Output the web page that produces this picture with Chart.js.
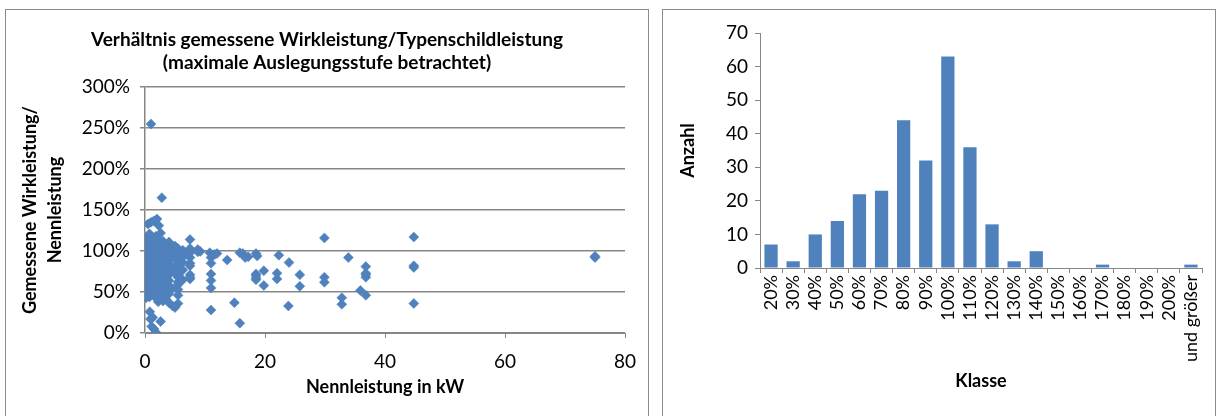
<!DOCTYPE html>
<html>
<head>
<meta charset="utf-8">
<script src="https://cdn.jsdelivr.net/npm/chart.js@4"></script>
<style>
  body { margin: 0; background: #fff; width: 1218px; height: 416px; overflow: hidden; position: relative; }
  .panel { position: absolute; top: 9px; border: 1px solid #8c8c8c; border-bottom: none; }
  #left { left: 5px; width: 642px; height: 407px; }
  #right { left: 662px; width: 552px; height: 407px; }
  canvas { display: block; }
</style>
</head>
<body>
<div class="panel" id="left"><canvas id="scatterChart" width="642" height="406"></canvas></div>
<div class="panel" id="right"><canvas id="histChart" width="552" height="406"></canvas></div>
<script>
// Messpunkte: [Nennleistung in kW, gemessene Wirkleistung / Nennleistung in %]
const messpunkte = [
  // bis 20 %
  [1.3, 19], [2.6, 14], [1.1, 8], [1.8, 1], [15.8, 12], [1.5, 5], [0.9, 17],
  // 20-30 %
  [0.8, 26], [11, 28],
  // 30-40 %
  [23.9, 33], [32.8, 35], [44.8, 36], [14.9, 37], [4.0, 37], [4.6, 33], [5.5, 36], [2.2, 38], [3.0, 39], [5.0, 31],
  // 40-50 %
  [32.8, 43], [36.8, 46], [0.2, 43], [0.4, 47], [1.0, 49], [2.2, 42], [1.5, 45], [3.0, 44], [4.0, 48], [5.5, 46],
  [0.75, 44], [2.6, 49], [3.5, 41], [1.8, 47],
  // 50-60 %
  [19.8, 58], [25.8, 57], [35.9, 52], [11, 55], [0.25, 52], [0.37, 55], [0.55, 58], [0.75, 51], [1.1, 53], [1.5, 57],
  [2.2, 52], [2.2, 56], [3.0, 54], [3.0, 59], [4.0, 51], [4.0, 57], [5.5, 53], [5.5, 59], [1.8, 50.5], [0.9, 59],
  [4.4, 55], [2.6, 58],
  // 60-70 %
  [36.8, 68], [18.5, 67], [18.5, 65], [22, 66], [29.9, 68], [29.9, 62], [11, 64], [7.5, 66], [7.5, 68], [0.18, 62],
  [0.37, 65], [0.55, 68], [0.75, 61], [1.1, 64], [1.5, 67], [2.2, 63], [2.2, 69], [3.0, 61], [3.0, 66], [4.0, 64],
  [5.5, 62], [5.5, 68], [6.3, 65],
  // 70-80 %
  [36.8, 71], [36.8, 73], [19.8, 76], [22, 73], [25.8, 71], [18.5, 72], [18.5, 70], [11, 72], [7.5, 71],
  [0.12, 74], [0.18, 78], [0.25, 71], [0.25, 77], [0.37, 73], [0.37, 79], [0.55, 72], [0.55, 76], [0.75, 70], [0.75, 75],
  [0.75, 79], [1.1, 71], [1.1, 74], [1.1, 78], [1.5, 72], [1.5, 76], [1.5, 79], [1.8, 73], [2.2, 71], [2.2, 75],
  [2.2, 78], [2.6, 74], [3.0, 72], [3.0, 76], [3.0, 79], [4.0, 71], [4.0, 74], [4.0, 78], [4.4, 76], [5.0, 73],
  [5.5, 71], [5.5, 75], [5.5, 78], [6.3, 77], [0.09, 76],
  // 80-90 %
  [13.7, 89], [24, 86], [11, 85], [36.8, 81], [44.8, 80], [44.8, 82], [7.5, 82], [7.5, 85],
  [0.12, 84], [0.18, 88], [0.25, 81], [0.37, 86], [0.55, 83], [0.55, 89], [0.75, 81], [0.75, 87], [1.1, 82], [1.1, 86],
  [1.5, 84], [1.5, 88], [1.8, 81], [2.2, 83], [2.2, 87], [2.6, 85], [3.0, 82], [3.0, 88], [4.0, 83], [4.0, 87],
  [5.0, 81], [5.5, 84], [5.5, 89], [6.3, 86],
  // 90-100 %
  [8.8, 99], [10.8, 98], [11.6, 96], [11, 92], [12, 97], [15.8, 98], [16.3, 97], [16.7, 92], [17.2, 93], [18.5, 97],
  [18.7, 94], [22.3, 95], [33.9, 92], [75, 92], [75, 93.5], [7.5, 98], [7.5, 92], [9.2, 99.5],
  [0.09, 95], [0.12, 91], [0.12, 98], [0.18, 93], [0.18, 99], [0.25, 92], [0.25, 96], [0.37, 90], [0.37, 94], [0.37, 98],
  [0.55, 91], [0.55, 95], [0.55, 99], [0.75, 92], [0.75, 96], [0.75, 100], [1.1, 90], [1.1, 94], [1.1, 97], [1.5, 91],
  [1.5, 95], [1.5, 99], [1.8, 93], [1.8, 97], [2.2, 90], [2.2, 94], [2.2, 98], [2.6, 92], [2.6, 96], [3.0, 91],
  [3.0, 95], [3.0, 99], [3.5, 93], [4.0, 90], [4.0, 94], [4.0, 98], [4.4, 96], [5.0, 92], [5.0, 99], [5.5, 91],
  [5.5, 95], [5.5, 99], [6.3, 93], [6.3, 98], [7.0, 96],
  // 100-110 %
  [0.09, 103], [0.12, 107], [0.18, 101], [0.18, 105], [0.25, 103], [0.25, 108], [0.37, 102], [0.37, 106], [0.55, 101], [0.55, 104],
  [0.55, 109], [0.75, 103], [0.75, 107], [1.1, 102], [1.1, 105], [1.1, 109], [1.5, 101], [1.5, 104], [1.5, 108], [1.8, 106],
  [2.2, 102], [2.2, 106], [2.6, 104], [2.6, 109], [3.0, 101], [3.0, 105], [3.5, 103], [4.0, 102], [4.0, 107], [4.4, 104],
  [5.0, 101], [5.0, 106], [5.5, 103], [6.3, 101], [8.8, 102], [7.5, 103],
  // 110-120 %
  [7.5, 114], [29.9, 116], [44.8, 117], [0.12, 113], [0.37, 117], [0.55, 112], [0.75, 119], [1.1, 115], [1.5, 111], [2.2, 114],
  [3.0, 112], [4.0, 111], [1.8, 118],
  // ueber 120 %
  [2.6, 122], [0.75, 121],
  [0.5, 133], [1.0, 135], [1.5, 137], [2.0, 139], [2.3, 131],
  [2.8, 165], [1.0, 255]
];

const klassen = ['20%', '30%', '40%', '50%', '60%', '70%', '80%', '90%', '100%', '110%',
  '120%', '130%', '140%', '150%', '160%', '170%', '180%', '190%', '200%', 'und größer'];
const anzahl = [7, 2, 10, 14, 22, 23, 44, 32, 63, 36, 13, 2, 5, 0, 0, 1, 0, 0, 0, 1];

const blau = '#4f81bd';
const grau = '#868686';
const schrift = 'Lato, "Open Sans", sans-serif';

new Chart(document.getElementById('scatterChart'), {
  type: 'scatter',
  data: {
    datasets: [{
      data: messpunkte.map(p => ({ x: p[0], y: p[1] })),
      pointStyle: 'rectRot',
      pointRadius: 5,
      backgroundColor: blau,
      borderColor: blau,
      borderWidth: 0.5
    }]
  },
  options: {
    responsive: false,
    animation: false,
    plugins: {
      legend: { display: false },
      tooltip: { enabled: false },
      title: {
        display: true,
        text: ['Verhältnis gemessene Wirkleistung/Typenschildleistung', '(maximale Auslegungsstufe betrachtet)'],
        color: '#000',
        font: { family: schrift, size: 19, weight: 'bold', lineHeight: 1.2 },
        padding: { top: 18.5, bottom: 13 }
      }
    },
    scales: {
      x: {
        type: 'linear',
        min: 0,
        max: 80,
        // feste Hoehe und Abstand rechts, damit die Zeichenflaeche wie im Original sitzt
        afterFit: s => { s.height = 83; s.paddingRight = 23; },
        ticks: { stepSize: 20, color: '#000', font: { family: schrift, size: 19 }, padding: 12 },
        grid: { drawOnChartArea: false, tickLength: 5, color: grau },
        border: { color: grau },
        title: {
          display: true, text: 'Nennleistung in kW', color: '#000',
          font: { family: schrift, size: 18, weight: 'bold' }, padding: { bottom: 18 }
        }
      },
      y: {
        min: 0,
        max: 300,
        afterFit: s => { s.width = 139; },
        ticks: { stepSize: 50, color: '#000', font: { family: schrift, size: 19 }, padding: 10, callback: v => v + '%' },
        grid: { tickLength: 5, color: grau, lineWidth: 1.5 },
        border: { color: grau, width: 1.5 },
        title: {
          display: true, text: ['Gemessene Wirkleistung/', 'Nennleistung'], color: '#000',
          font: { family: schrift, size: 18, weight: 'bold', lineHeight: 1.39 }, padding: { top: 12 }
        }
      }
    }
  }
});

new Chart(document.getElementById('histChart'), {
  type: 'bar',
  data: {
    labels: klassen,
    datasets: [{
      data: anzahl,
      backgroundColor: blau,
      barPercentage: 0.6,
      categoryPercentage: 1.0
    }]
  },
  options: {
    responsive: false,
    animation: false,
    layout: { padding: { top: 23, right: 13, bottom: 0, left: 0 } },
    plugins: { legend: { display: false }, tooltip: { enabled: false } },
    scales: {
      x: {
        afterFit: s => { s.height = 148; },
        ticks: { color: '#000', font: { family: schrift, size: 18 }, minRotation: 90, maxRotation: 90, padding: 2, autoSkip: false },
        grid: { drawOnChartArea: false, tickLength: 5, color: grau, offset: true },
        border: { color: grau },
        title: {
          display: true, text: 'Klasse', color: '#000',
          font: { family: schrift, size: 18, weight: 'bold' }, padding: { bottom: 24 }
        }
      },
      y: {
        min: 0,
        max: 70,
        afterFit: s => { s.width = 97; },
        ticks: { stepSize: 10, color: '#000', font: { family: schrift, size: 19 }, padding: 7 },
        grid: { drawOnChartArea: false, tickLength: 5, color: grau },
        border: { color: grau },
        title: {
          display: true, text: 'Anzahl', color: '#000',
          font: { family: schrift, size: 18, weight: 'bold' }, padding: { top: 14 }
        }
      }
    }
  }
});
</script>
</body>
</html>
